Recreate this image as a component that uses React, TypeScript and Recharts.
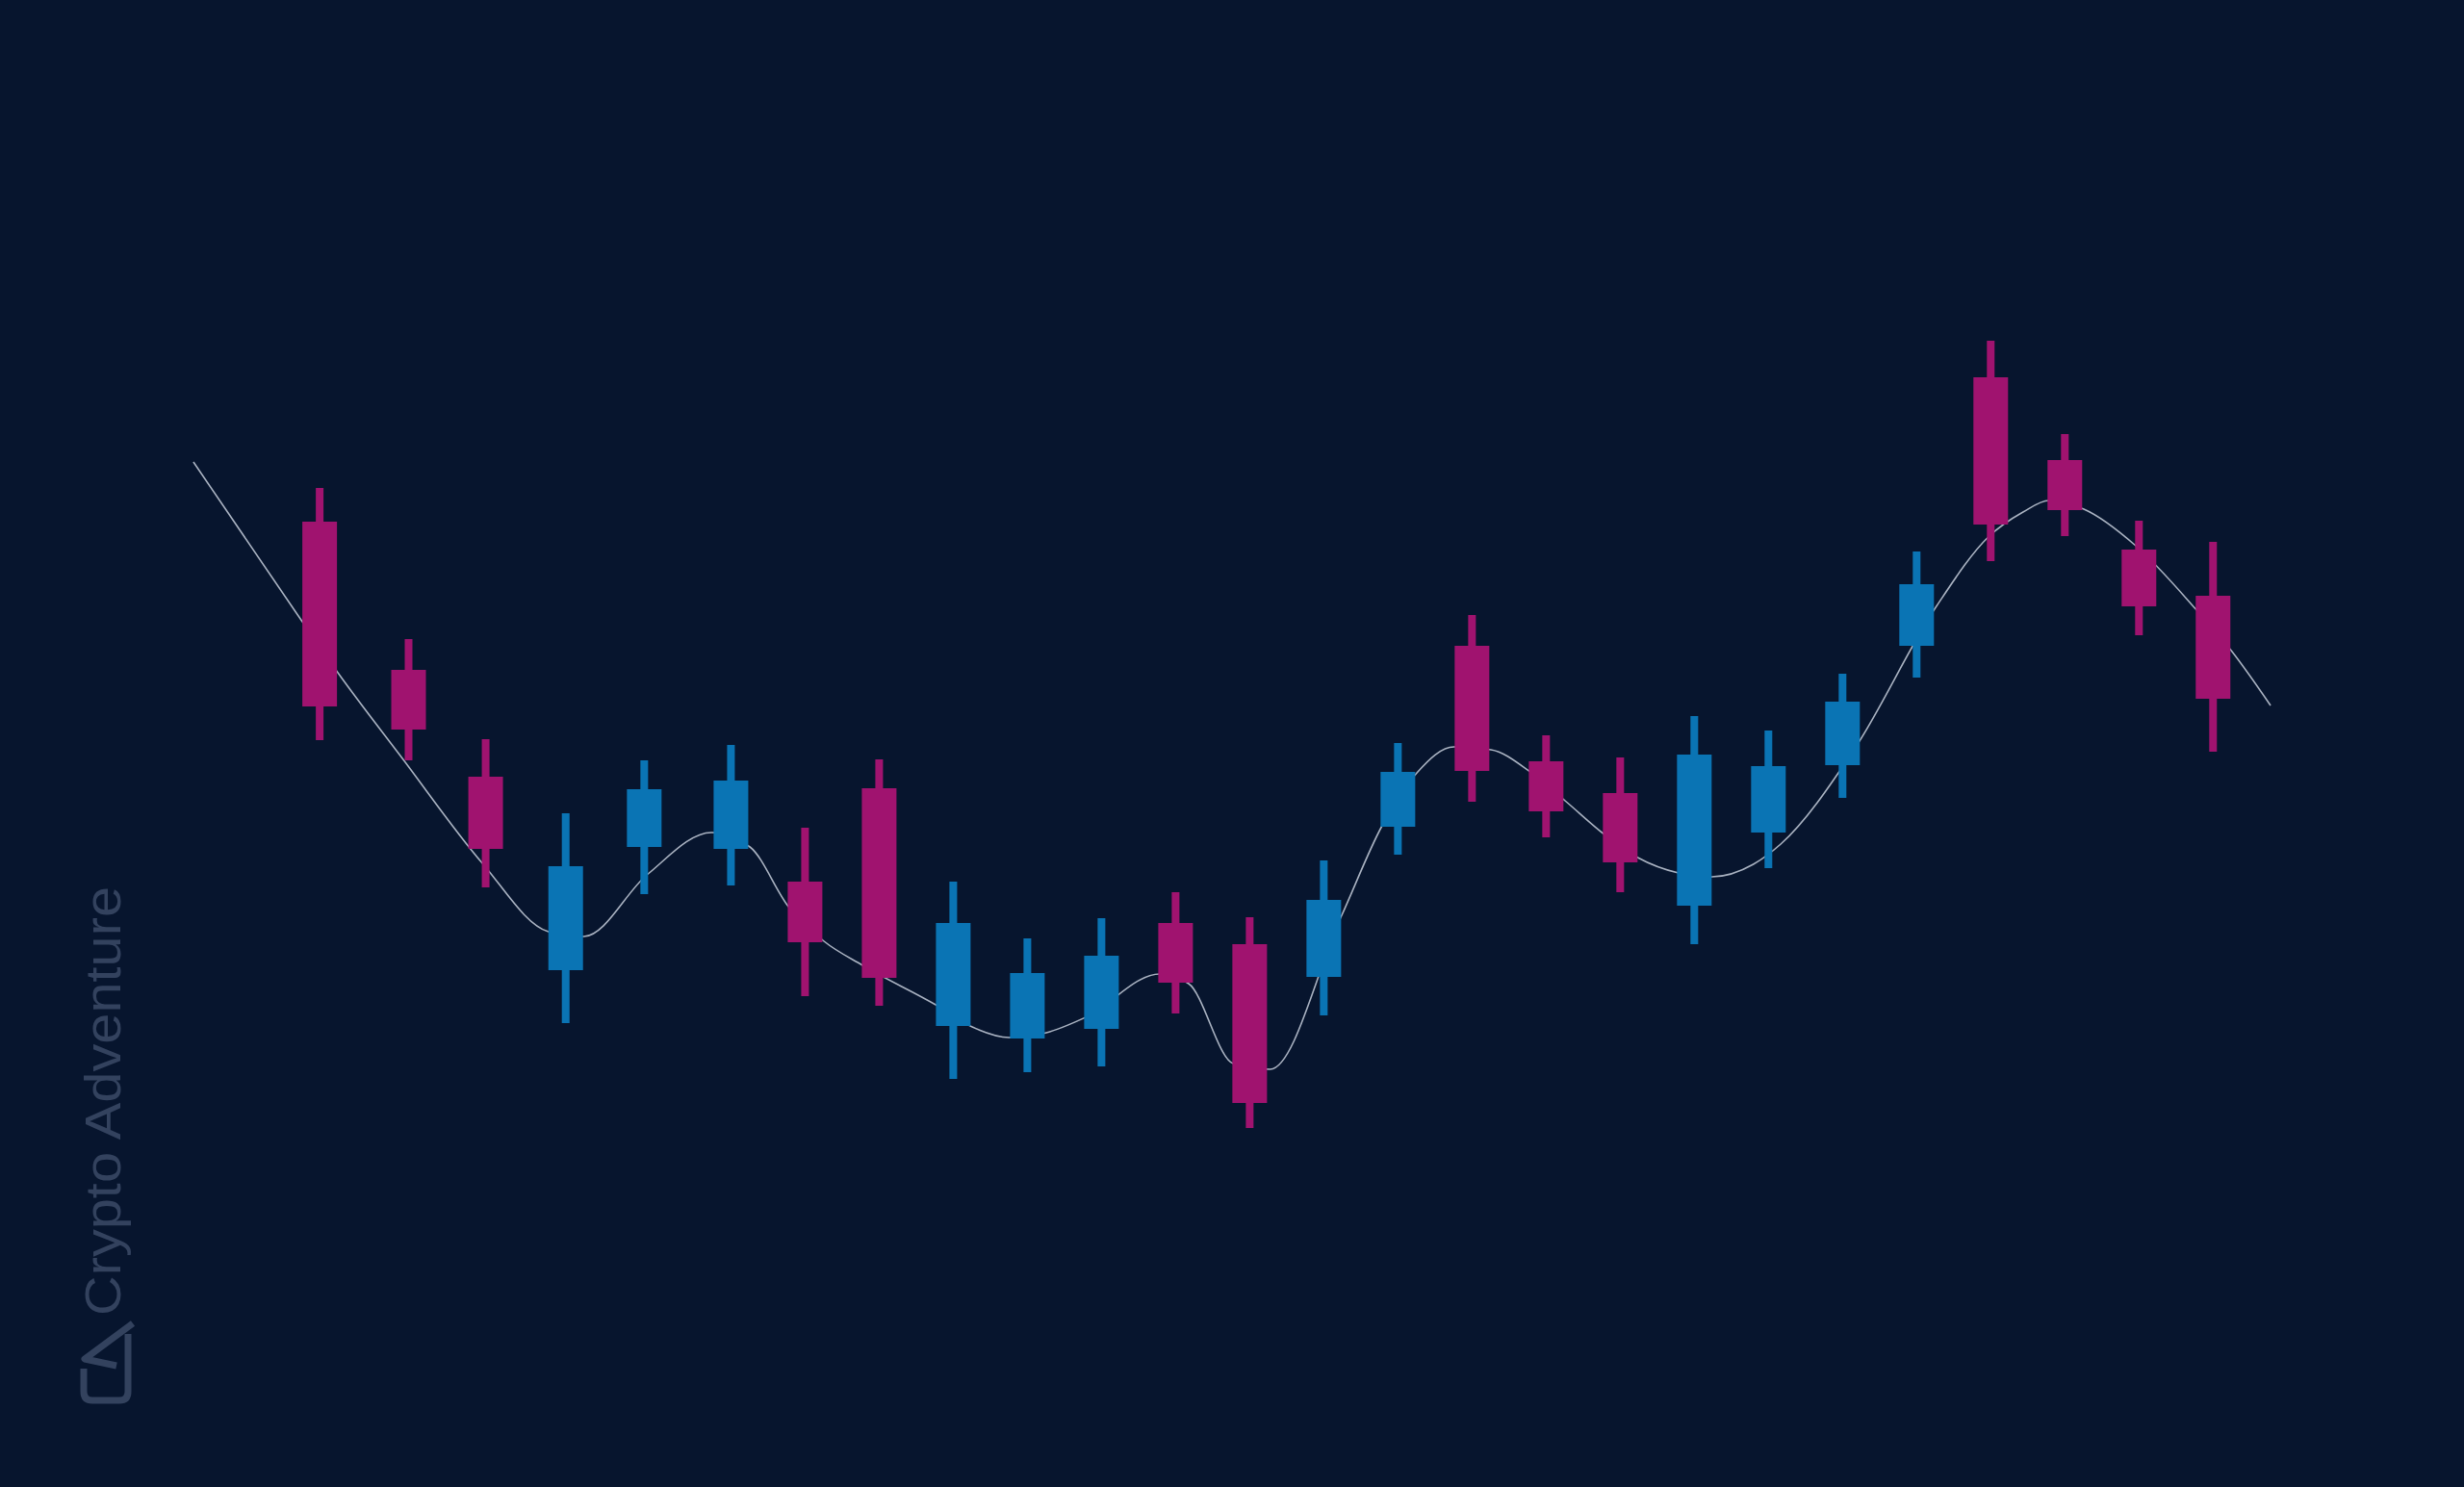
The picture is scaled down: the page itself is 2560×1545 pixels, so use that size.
import { Bar, ComposedChart, Line, LineChart, XAxis, YAxis } from "recharts";

const BG = "#07152e";
const UP = "#0a74b4";
const DOWN = "#a0136f";
const MA_COLOR = "#aab3c2";
const MARK_COLOR = "#33425e";

const X_DOMAIN: [number, number] = [-2.87, 30.38];
const Y_DOMAIN: [number, number] = [24550, 40000];
const MARGIN = { top: 0, right: 0, bottom: 0, left: 0 };

// candle time positions (session units) and OHLC prices
const candleTimes = [
  1.45, 2.65, 3.69, 4.77, 5.83, 7, 8, 9, 10, 11, 12, 13, 14, 15, 16, 17, 18, 19, 20, 21, 22, 23,
  24, 25, 26, 27,
];
const opens = [
  34580, 33040, 31930, 29920, 31200, 31180, 30840, 31810, 29340, 29210, 29310, 30410, 30190,
  29850, 31410, 33290, 32090, 31760, 30590, 31350, 32050, 33290, 36080, 35220, 34290, 33810,
];
const highs = [
  34930, 33360, 32320, 31550, 32100, 32260, 31400, 32110, 30840, 30250, 30460, 30730, 30470,
  31060, 32280, 33610, 32360, 32130, 32560, 32410, 33000, 34270, 36460, 35490, 34590, 34370,
];
const lows = [
  32310, 32100, 30780, 29370, 30710, 30800, 29650, 29550, 28790, 28860, 28920, 29470, 28280,
  29450, 31120, 31670, 31300, 30730, 30190, 30980, 31710, 32960, 34170, 34430, 33400, 32190,
];
const closes = [
  32660, 32420, 31180, 31000, 31800, 31890, 30210, 29840, 30410, 29890, 30070, 29790, 28540,
  30650, 31980, 31990, 31570, 31040, 32160, 32040, 32710, 33930, 34550, 34700, 33700, 32740,
];

// smoothed average line
const maTimes = [
  -0.26, 1.21, 1.69, 2.55, 3.64, 4.53, 5.01, 5.86, 6.73, 7.25, 7.77, 8.25, 8.77, 9.78, 10.25,
  10.75, 11.25, 11.78, 12.78, 13.17, 13.77, 14.27, 15.23, 15.78, 16.25, 16.75, 17.25, 17.78,
  18.25, 18.78, 19.23, 19.78, 20.23, 20.79, 21.16, 22.14, 23.26, 23.96, 24.43, 24.78, 25.25,
  25.95, 26.75, 27.25, 27.77,
];
const maValues = [
  35200, 33540, 33010, 32130, 31030, 30320, 30270, 30910, 31350, 31200, 30580, 30220, 29970,
  29550, 29330, 29220, 29270, 29430, 29880, 29780, 28950, 28890, 30480, 31420, 31970, 32240,
  32210, 31980, 31680, 31330, 31090, 30930, 30890, 31020, 31230, 32200, 33700, 34420, 34680,
  34800, 34710, 34330, 33680, 33230, 32670,
];

const candles = candleTimes.map((t, i) => ({
  t,
  open: opens[i],
  high: highs[i],
  low: lows[i],
  close: closes[i],
}));
const maLine = maTimes.map((t, i) => ({ t, ma: maValues[i] }));

function Candle(props: any) {
  const { x, y, width, height, payload } = props;
  if (!payload || height == null || isNaN(y)) return null;
  const { open, close, high, low } = payload;
  const cx = x + width / 2;
  const top = Math.min(y, y + height);
  const h = Math.abs(height);
  const ppu = h / (high - low);
  const bodyTop = top + (high - Math.max(open, close)) * ppu;
  const bodyBottom = top + (high - Math.min(open, close)) * ppu;
  const color = close >= open ? UP : DOWN;
  return (
    <g>
      <rect x={cx - 4} y={top} width={8} height={h} fill={color} />
      <rect x={cx - 18} y={bodyTop} width={36} height={bodyBottom - bodyTop} fill={color} />
    </g>
  );
}

function Watermark() {
  return (
    <svg
      width={2560}
      height={1545}
      style={{ position: "absolute", left: 0, top: 0, pointerEvents: "none" }}
    >
      <text
        transform="translate(125,1367) rotate(-90)"
        fill={MARK_COLOR}
        fontFamily="'Liberation Sans', Arial, sans-serif"
        fontSize={51}
        textLength={446}
        lengthAdjust="spacingAndGlyphs"
      >
        Crypto Adventure
      </text>
      <g fill="none" stroke={MARK_COLOR} strokeWidth={7} strokeLinejoin="round">
        <path d="M 133 1386 L 133 1446 Q 133 1455 124 1455 L 96 1455 Q 87 1455 87 1446 L 87 1422" />
        <path d="M 138 1375 L 88 1412 L 121 1419" />
      </g>
    </svg>
  );
}

const layer = { position: "absolute" as const, left: 0, top: 0 };

export default function App() {
  return (
    <div
      style={{
        position: "absolute",
        left: 0,
        top: 0,
        width: 2560,
        height: 1545,
        background: BG,
        overflow: "hidden",
      }}
    >
      <div style={layer}>
        <LineChart width={2560} height={1545} data={maLine} margin={MARGIN}>
          <XAxis type="number" dataKey="t" domain={X_DOMAIN} hide allowDataOverflow />
          <YAxis type="number" domain={Y_DOMAIN} hide allowDataOverflow />
          <Line
            dataKey="ma"
            type="monotone"
            stroke={MA_COLOR}
            strokeWidth={1.6}
            dot={false}
            activeDot={false}
            isAnimationActive={false}
          />
        </LineChart>
      </div>
      <div style={layer}>
        <ComposedChart width={2560} height={1545} data={candles} margin={MARGIN}>
          <XAxis type="number" dataKey="t" domain={X_DOMAIN} hide allowDataOverflow />
          <YAxis type="number" domain={Y_DOMAIN} hide allowDataOverflow />
          <Bar
            dataKey={(d: any) => [d.low, d.high]}
            barSize={36}
            shape={(p: any) => <Candle {...p} />}
            isAnimationActive={false}
          />
        </ComposedChart>
      </div>
      <Watermark />
    </div>
  );
}
